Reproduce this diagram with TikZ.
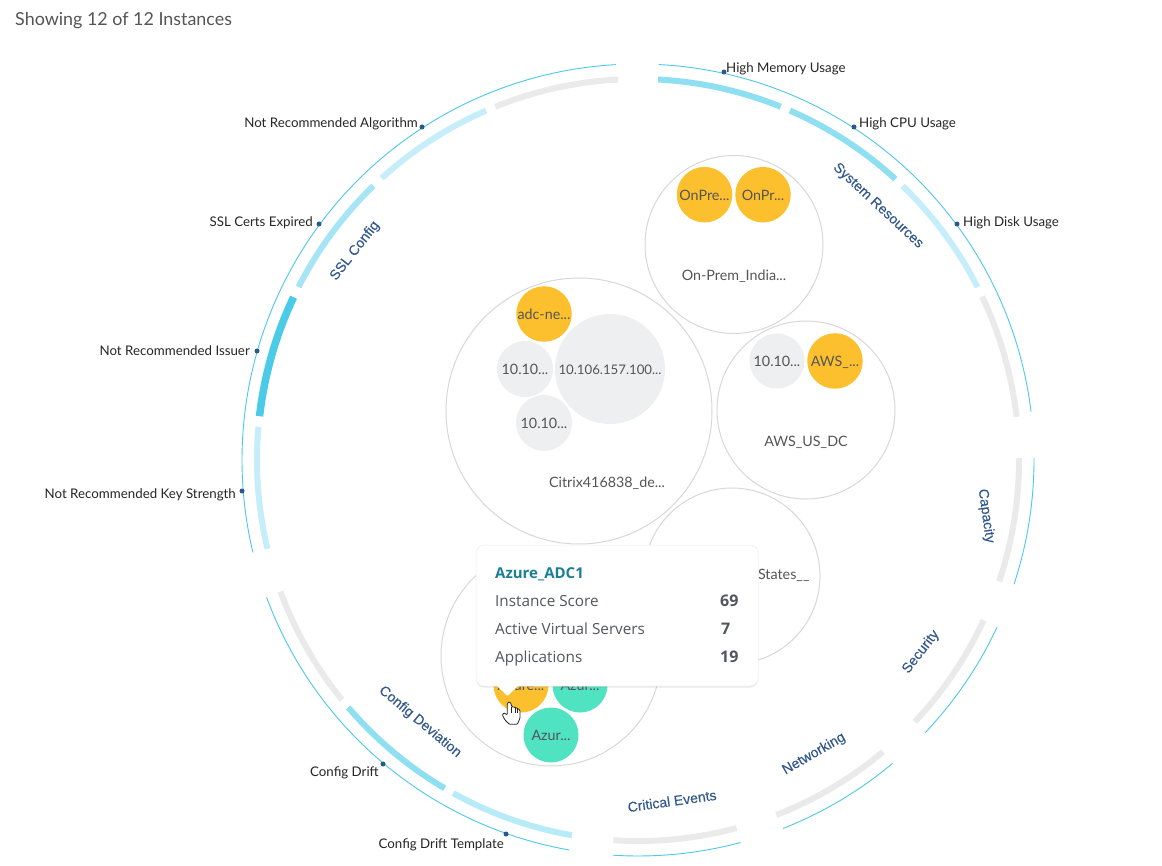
\documentclass[tikz,border=0pt]{standalone}
\usepackage{fontspec}
\setmainfont{Lato}
\newfontfamily\cardfont{Open Sans}
\newfontfamily\catfont[FakeBold=0.25]{Liberation Sans}
\usetikzlibrary{shadows}
\definecolor{ringline}{HTML}{4CC8E8}
\definecolor{segA}{HTML}{8FDFF3}
\definecolor{segB}{HTML}{C6EEFA}
\definecolor{segC}{HTML}{A5E5F5}
\definecolor{segD}{HTML}{4CCBE8}
\definecolor{segE}{HTML}{B8EBF8}
\definecolor{segG}{HTML}{EBEAEB}
\definecolor{dotblue}{HTML}{2B5A8A}
\definecolor{catblue}{HTML}{33598C}
\definecolor{bubO}{HTML}{FCC02E}
\definecolor{bubT}{HTML}{50E3C2}
\definecolor{bubG}{HTML}{EEEFF1}
\definecolor{bubline}{HTML}{D8D8D8}
\definecolor{txt}{HTML}{555555}
\definecolor{cardtxt}{HTML}{53565F}
\definecolor{cardhead}{HTML}{1B7F93}
\newcommand{\ringout}[2]{\draw[ringline,line width=0.9pt] ([shift={(#1:396pt)}]638,460) arc[start angle=#1,end angle=#2,radius=396pt];}
\newcommand{\ringseg}[4][6pt]{\draw[#2,line width=#1] ([shift={(#3:381pt)}]638,460) arc[start angle=#3,end angle=#4,radius=381pt];}
\tikzset{
  bub/.style={circle,inner sep=0pt,font=\fontsize{14.3}{16}\selectfont,text=txt,text height=14pt,text depth=3pt},
  group/.style={bub,draw=bubline,line width=1pt,fill=white},
  tick/.style={circle,fill=dotblue,inner sep=0pt,minimum size=5pt},
  ticktext/.style={font=\fontsize{13.3}{15}\selectfont,text=black!85,inner sep=0pt,text height=14pt,text depth=3pt},
  cat/.style={font=\catfont\fontsize{14}{16}\selectfont,text=catblue,inner sep=0pt},
  cardl/.style={font=\cardfont\fontsize{15.3}{16}\selectfont,text=cardtxt,anchor=west,inner sep=0pt,text height=14pt,text depth=3pt},
  cardv/.style={font=\cardfont\fontsize{16}{16}\selectfont\bfseries,text=cardtxt,anchor=west,inner sep=0pt,text height=14pt,text depth=3pt}
}
\begin{document}
\begin{tikzpicture}[x=1pt,y=-1pt]
\useasboundingbox (0,0) rectangle (1162,866);
\fill[white] (0,0) rectangle (1162,866);
\node[anchor=west,inner sep=0pt,font=\fontsize{17.9}{20}\selectfont,text=txt,text height=18pt,text depth=4pt] (title) at (15,19) {Showing 12 of 12 Instances};
% outer ring
\ringout{87}{7}
\ringout{0.3}{-18.3}
\ringout{-25}{-43.5}
\ringout{-50}{-68.5}
\ringout{-75}{-93.6}
\ringout{-100}{-159.7}
\ringout{193.5}{93.2}
% inner ring
\ringseg{segA}{87}{68}
\ringseg{segA}{66.5}{47.5}
\ringseg{segB}{46}{27}
\ringseg{segG}{25.4}{6.5}
\ringseg{segG}{0.3}{-18.6}
\ringseg{segG}{-24.9}{-43.4}
\ringseg{segG}{-50}{-68.7}
\ringseg{segG}{-75}{-93.7}
\ringseg{segE}{-100}{-119}
\ringseg{segA}{-120.5}{-139.5}
\ringseg{segG}{-141}{-159.8}
\ringseg{segB}{193.5}{175}
\ringseg[7.5pt]{segD}{173.4}{154.7}
\ringseg{segC}{153}{134}
\ringseg{segB}{132.3}{113.5}
\ringseg{segG}{112}{93}
% ticks
\node[tick] (t1) at (724,72) {};
\node[tick] (t2) at (854,127) {};
\node[tick] (t3) at (957,224) {};
\node[tick] (t4) at (422,127) {};
\node[tick] (t5) at (319,224) {};
\node[tick] (t6) at (257,351) {};
\node[tick] (t7) at (242,491) {};
\node[tick] (t8) at (383,764) {};
\node[tick] (t9) at (506,834) {};
\node[ticktext,anchor=west] (l1) at (726,67) {High Memory Usage};
\node[ticktext,anchor=west] (l2) at (859,122) {High CPU Usage};
\node[ticktext,anchor=west] (l3) at (963,221) {High Disk Usage};
\node[ticktext,anchor=east] (l4) at (418,122) {Not Recommended Algorithm};
\node[ticktext,anchor=east] (l5) at (313,221) {SSL Certs Expired};
\node[ticktext,anchor=east] (l6) at (250,350) {Not Recommended Issuer};
\node[ticktext,anchor=east] (l7) at (236,493) {Not Recommended Key Strength};
\node[ticktext,anchor=east] (l8) at (379,771) {Config Drift};
\node[ticktext,anchor=east] (l9) at (504,843) {Config Drift Template};
% category labels
\node[cat,rotate=-43] (c1) at (878,206) {System Resources};
\node[cat,rotate=-82] (c2) at (986,516) {Capacity};
\node[cat,rotate=52] (c3) at (921,652) {Security};
\node[cat,rotate=30] (c4) at (814,754) {Networking};
\node[cat,rotate=8] (c5) at (672,801) {Critical Events};
\node[cat,rotate=-40] (c6) at (420,722) {Config Deviation};
\node[cat,rotate=52] (c7) at (355,251) {SSL Config};
% groups
\node[group,minimum size=178pt] (g1) at (734,244.5) {};
\node[bub] (g1t) at (734,275) {On-Prem\_India...};
\node[bub,fill=bubO,minimum size=55.5pt] (a1) at (704.5,194.7) {OnPre...};
\node[bub,fill=bubO,minimum size=55.5pt] (a2) at (763,194.7) {OnPr...};

\node[group,minimum size=266pt] (g2) at (579,411) {};
\node[bub] (g2t) at (607,482) {Citrix416838\_de...};
\node[bub,fill=bubO,minimum size=55.5pt] (b1) at (544,314) {adc-ne...};
\node[bub,fill=bubG,minimum size=56pt] (b2) at (525,369) {10.10...};
\node[bub,fill=bubG,minimum size=110pt,font=\fontsize{13.2}{16}\selectfont] (b3) at (610,369) {10.106.157.100...};
\node[bub,fill=bubG,minimum size=56pt] (b4) at (544,423) {10.10...};

\node[group,minimum size=178pt] (g3) at (806,410) {};
\node[bub] (g3t) at (806,441) {AWS\_US\_DC};
\node[bub,fill=bubG,minimum size=55pt] (d1) at (777,361) {10.10...};
\node[bub,fill=bubO,minimum size=55.5pt] (d2) at (835,361) {AWS\_...};

\node[group,minimum size=176pt] (g4) at (732,576) {};
\node[bub,anchor=east] (g4t) at (811,574) {States\_\_};

\node[group,minimum size=220pt] (g5) at (551,656) {};
\node[bub,fill=bubO,minimum size=55pt] (e1) at (521,685) {Azure...};
\node[bub,fill=bubT,minimum size=55pt] (e2) at (580,685) {Azur...};
\node[bub,fill=bubT,minimum size=55pt] (e3) at (551,735) {Azur...};
% tooltip
\path[fill=white,rounded corners=8pt,drop shadow={opacity=0.18,shadow xshift=0pt,shadow yshift=-1.5pt}] (476,545) rectangle (758,686);
\draw[bubline!45,line width=0.5pt,rounded corners=8pt] (476,545) rectangle (758,686);
\fill[white,rounded corners=1pt] (496,685) -- (507.5,696) -- (519,685) -- cycle;
\node[cardl,font=\cardfont\fontsize{15}{16}\selectfont\bfseries,text=cardhead] (h) at (495,573) {Azure\_ADC1};
\node[cardl] (k1) at (495,601) {Instance Score};
\node[cardl] (k2) at (495,629) {Active Virtual Servers};
\node[cardl] (k3) at (495,657) {Applications};
\node[cardv] (v1) at (720,601) {69};
\node[cardv] (v2) at (721,629) {7};
\node[cardv] (v3) at (720,657) {19};
% pointer
\draw[fill=white,draw=black!85,line width=0.8pt,rounded corners=1pt,line join=round]
 (509,701.7) -- (507.3,703.3) -- (507.3,715) -- (504,712.7) -- (502.3,715) -- (505,720) -- (509.3,724.3) -- (517.3,724.3) -- (520,718.3) -- (520,710) -- (517.3,708.3) -- (515,707.3) -- (511.7,706.7) -- (511,703.3) -- cycle;
\draw[black!85,line width=0.5pt] (511.7,706.7) -- (511.7,713) (515,707.3) -- (515,713) (517.3,708.3) -- (517.3,713);
\end{tikzpicture}
\end{document}
